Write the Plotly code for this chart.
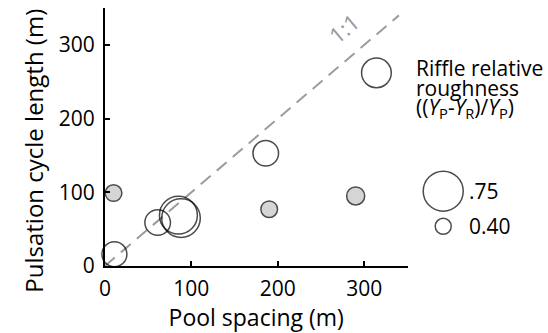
import plotly.graph_objects as go

# ---- data ----
open_pool_spacing = [11, 61, 85, 88, 186, 314]
open_cycle_length = [16, 59, 69, 65, 153, 262]
open_roughness = [0.53, 0.54, 0.72, 0.73, 0.54, 0.60]

filled_pool_spacing = [10, 190, 290]
filled_cycle_length = [99, 77, 95]
filled_roughness = [0.41, 0.41, 0.43]

one_to_one = [0, 340]
x_ticks = [0, 100, 200, 300]
y_ticks = [0, 100, 200, 300]
legend_roughness = [0.75, 0.40]
legend_labels = [".75", "0.40"]

# ---- size mapping ----
R_LO, R_HI = 0.40, 0.75
D_LO, D_HI = 16.0, 40.0


def diam(r):
    return D_LO + (r - R_LO) * (D_HI - D_LO) / (R_HI - R_LO)


W, H = 548, 333
L_PX, R_PX, T_PX, B_PX = 100, 406, 8, 266
FONT = "Open Sans"

fig = go.Figure()

fig.add_trace(go.Scatter(
    x=one_to_one, y=one_to_one, mode="lines",
    line=dict(color="#9c9c9c", width=2, dash="13px,8px"),
    hoverinfo="skip", cliponaxis=False))

fig.add_trace(go.Scatter(
    x=filled_pool_spacing, y=filled_cycle_length, mode="markers",
    marker=dict(size=[diam(r) for r in filled_roughness], color="#c4c4c4",
                line=dict(color="black", width=1.5)),
    cliponaxis=False))

fig.add_trace(go.Scatter(
    x=open_pool_spacing, y=open_cycle_length, mode="markers",
    marker=dict(size=[diam(r) for r in open_roughness], color="rgba(0,0,0,0)",
                line=dict(color="black", width=1.5)),
    cliponaxis=False))

# legend circles on a hidden side axis
leg_x = [0.254, 0.254]
leg_y = [0.29, 0.154]
fig.add_trace(go.Scatter(
    x=leg_x, y=leg_y, xaxis="x2", yaxis="y2", mode="markers",
    marker=dict(size=[diam(r) for r in legend_roughness], color="rgba(0,0,0,0)",
                line=dict(color="black", width=1.5)),
    cliponaxis=False))
for lx, ly, lab in zip(leg_x, leg_y, legend_labels):
    fig.add_annotation(x=lx + 0.17, y=ly, xref="x2", yref="y2", text=lab,
                       showarrow=False, xanchor="left", yanchor="middle",
                       font=dict(family=FONT, size=21, color="black"))

axis_common = dict(showline=True, linecolor="black", linewidth=2, ticks="inside",
                   ticklen=5, tickwidth=1.5, tickcolor="black", showgrid=False,
                   zeroline=False, tickfont=dict(family=FONT, size=21, color="black"))

fig.update_layout(
    width=W, height=H,
    margin=dict(l=0, r=0, t=T_PX, b=H - B_PX),
    paper_bgcolor="white", plot_bgcolor="white",
    showlegend=False,
    xaxis=dict(range=[0, 350], domain=[L_PX / W, R_PX / W], tickvals=x_ticks,
               title=dict(text="Pool spacing (m)", font=dict(family=FONT, size=23, color="black"),
                          standoff=0),
               ticklabelstandoff=3, **axis_common),
    yaxis=dict(range=[0, 350], domain=[0, 1], tickvals=y_ticks,
               ticklabelstandoff=4, **axis_common),
    xaxis2=dict(domain=[R_PX / W, 1], range=[0, 1], visible=False, anchor="y2"),
    yaxis2=dict(domain=[0, 1], range=[0, 1], visible=False, anchor="x2"),
)

# y axis title
fig.add_annotation(x=27 / W, y=(B_PX - 151) / (B_PX - T_PX), xref="paper", yref="paper",
                   text="Pulsation cycle length (m)", textangle=-90, showarrow=False,
                   xanchor="center", yanchor="middle",
                   font=dict(family=FONT, size=24, color="black"))

# 1:1 label
fig.add_annotation(x=276, y=323, text="1:1", textangle=-40, showarrow=False,
                   font=dict(family=FONT, size=22, color="#999999"))

# legend title lines
title_lines = ["Riffle relative", "roughness",
               "((<i>Y</i><sub>P</sub>-<i>Y</i><sub>R</sub>)/<i>Y</i><sub>P</sub>)"]
for i, t in enumerate(title_lines):
    ypx = 68 + 20 * i
    fig.add_annotation(x=413 / W, y=(B_PX - ypx) / (B_PX - T_PX), xref="paper", yref="paper",
                       text=t, showarrow=False, xanchor="left", yanchor="middle",
                       font=dict(family=FONT, size=21, color="black"))

fig.write_html("out.html")
